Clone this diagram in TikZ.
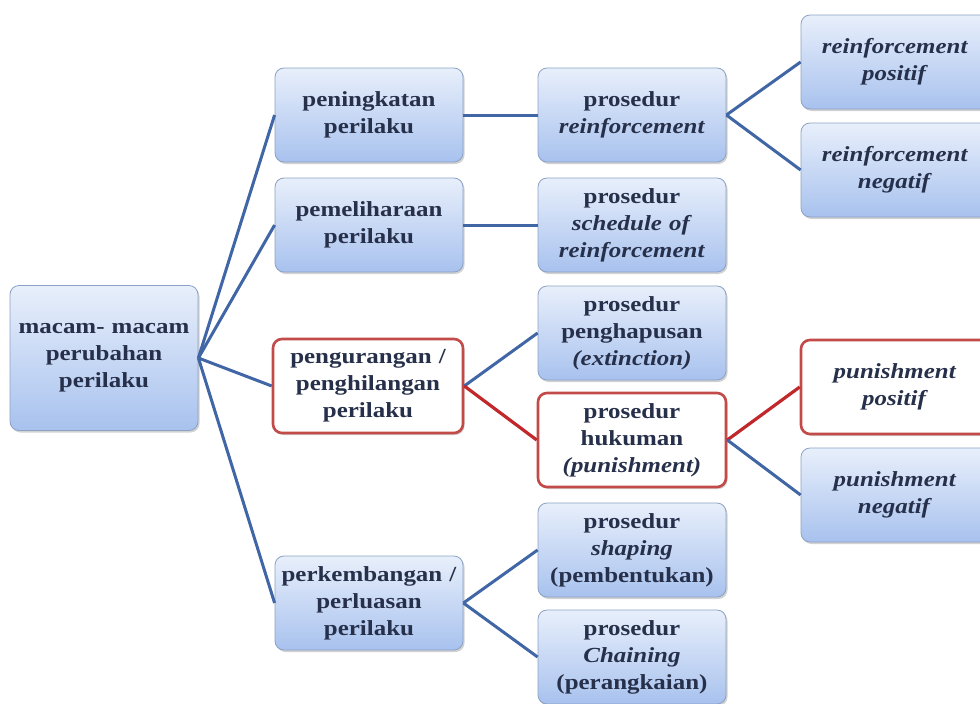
\documentclass[tikz,border=0pt]{standalone}
\usepackage{fontspec}
\setmainfont{Liberation Serif}[FakeStretch=1.16]
\usetikzlibrary{shadows}
\definecolor{boxtop}{HTML}{E8EFFB}
\definecolor{boxbot}{HTML}{A8C2EE}
\definecolor{boxline}{HTML}{8CA2C4}
\definecolor{txt}{HTML}{27304A}
\definecolor{linkblue}{HTML}{4066A6}
\definecolor{linkred}{HTML}{C0282C}
\definecolor{redline}{HTML}{C24A48}
\begin{document}
\begin{tikzpicture}[x=1pt, y=-1pt,
    box/.style={draw=boxline, line width=0.8pt, rounded corners=9pt,
        top color=boxtop, bottom color=boxbot, text=txt,
        minimum width=188pt, minimum height=94pt, text width=180pt, inner xsep=2pt,
        align=center, font=\fontsize{21.5}{27}\selectfont\bfseries,
        drop shadow={shadow xshift=1.5pt, shadow yshift=-2pt, opacity=0.35}},
    redbox/.style={box, draw=redline, line width=2.6pt, top color=white, bottom color=white},
    link/.style={draw=linkblue, line width=3pt},
    redlink/.style={draw=linkred, line width=3.2pt}]
    \useasboundingbox (0,0) rectangle (980,704);
    \fill[white] (0,0) rectangle (980,704);
    % root
    \node[box, minimum height=145pt] (root) at (104, 358) {macam- macam\\perubahan\\perilaku};
    % second column
    \node[box] (naik) at (369, 115) {peningkatan\\perilaku};
    \node[box] (pelihara) at (369, 225) {pemeliharaan\\perilaku};
    \node[redbox, minimum width=190pt] (kurang) at (368, 386) {pengurangan /\\penghilangan\\perilaku};
    \node[box] (kembang) at (369, 603) {perkembangan /\\perluasan\\perilaku};
    % third column
    \node[box] (reinf) at (632, 115) {prosedur\\\textit{reinforcement}};
    \node[box] (sched) at (632, 225) {prosedur\\\textit{schedule of}\\\textit{reinforcement}};
    \node[box] (hapus) at (632, 333) {prosedur\\penghapusan\\\textit{(extinction)}};
    \node[redbox] (hukum) at (632, 440) {prosedur\\hukuman\\\textit{(punishment)}};
    \node[box] (shape) at (632, 550) {prosedur\\\textit{shaping}\\(pembentukan)};
    \node[box] (chain) at (632, 657) {prosedur\\\textit{Chaining}\\(perangkaian)};
    % fourth column
    \node[box] (rpos) at (895, 62) {\textit{reinforcement}\\\textit{positif}};
    \node[box] (rneg) at (895, 170) {\textit{reinforcement}\\\textit{negatif}};
    \node[redbox] (ppos) at (895, 387) {\textit{punishment}\\\textit{positif}};
    \node[box] (pneg) at (895, 495) {\textit{punishment}\\\textit{negatif}};
    % connectors
    \foreach \b in {naik, pelihara, kurang, kembang}
        \draw[link] (root.east) -- (\b.west);
    \draw[link] (naik.east) -- (reinf.west);
    \draw[link] (pelihara.east) -- (sched.west);
    \draw[link] (kurang.east) -- (hapus.west);
    \draw[redlink] (kurang.east) -- (hukum.west);
    \draw[link] (kembang.east) -- (shape.west);
    \draw[link] (kembang.east) -- (chain.west);
    \draw[link] (reinf.east) -- (rpos.west);
    \draw[link] (reinf.east) -- (rneg.west);
    \draw[redlink] (hukum.east) -- (ppos.west);
    \draw[link] (hukum.east) -- (pneg.west);
\end{tikzpicture}
\end{document}
